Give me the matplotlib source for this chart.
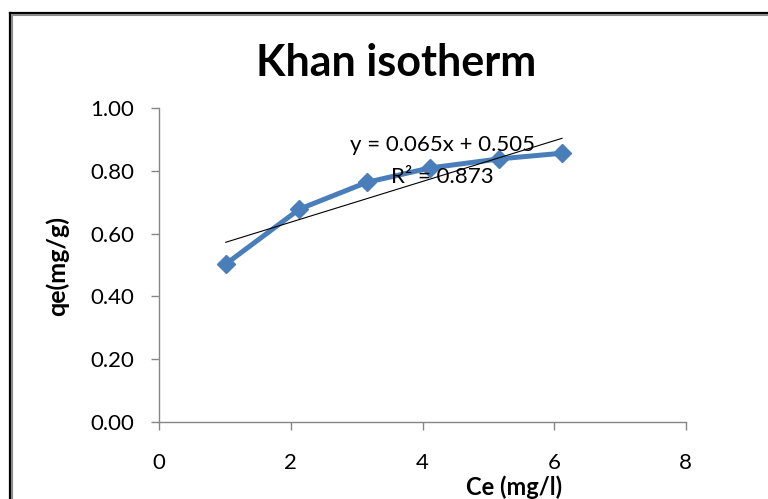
import matplotlib
matplotlib.use("Agg")
import matplotlib.pyplot as plt
from matplotlib.lines import Line2D
import numpy as np

plt.rcParams['font.family'] = ['Lato', 'DejaVu Sans']

ce = [1.01, 2.13, 3.15, 4.11, 5.17, 6.12]
qe = [0.503, 0.678, 0.763, 0.809, 0.838, 0.856]
x_ticks = [0, 2, 4, 6, 8]
y_ticks = [0.0, 0.2, 0.4, 0.6, 0.8, 1.0]
title = "Khan isotherm"
xlabel = "Ce (mg/l)"
ylabel = "qe(mg/g)"
eq_text = "y = 0.065x + 0.505"
r2_text = "R² = 0.873"

W, H = 768, 499
fig = plt.figure(figsize=(W / 100, H / 100), dpi=100)
ax = fig.add_axes([159.3 / W, 1 - 422 / H, (685.7 - 159.3) / W, (422 - 108) / H])

slope, intercept = np.polyfit(ce, qe, 1)
xs = np.array([min(ce), max(ce)])
ax.plot(xs, slope * xs + intercept, color='black', lw=0.8, zorder=3)
ax.plot(ce, qe, color='#4a7ebb', lw=3.6, marker='D', markersize=9.5,
        markeredgecolor='#4a7ebb', zorder=2)

ax.set_xlim(0, 8)
ax.set_ylim(0, 1.0)
ax.set_xticks(x_ticks)
ax.set_yticks(y_ticks)
ax.set_xticklabels([str(v) for v in x_ticks])
ax.set_yticklabels([f"{v:.2f}" for v in y_ticks])
for s in ['top', 'right']:
    ax.spines[s].set_visible(False)
for s in ['left', 'bottom']:
    ax.spines[s].set_color('#868686')
    ax.spines[s].set_linewidth(1.0)
ax.tick_params(axis='both', direction='out', color='#868686', length=6, width=1,
               labelsize=16, labelcolor='black')
ax.tick_params(axis='x', pad=16)
ax.tick_params(axis='y', pad=12)

fig.text(396 / W, 1 - 63 / H, title, ha='center', va='center', fontsize=31,
         fontweight='bold')
fig.text(514 / W, 1 - 487 / H, xlabel, ha='center', va='center', fontsize=17,
         fontweight='bold')
fig.text(57 / W, 1 - 266 / H, ylabel, ha='center', va='center', fontsize=18,
         fontweight='bold', rotation=90)
fig.text(442 / W, 1 - 145 / H, eq_text, ha='center', va='center', fontsize=16)
fig.text(442 / W, 1 - 177 / H, r2_text, ha='center', va='center', fontsize=16)

# outer frame
fig.add_artist(Line2D([10 / W, 1.0], [1 - 13 / H, 1 - 13 / H], color='black', lw=1.6,
                      transform=fig.transFigure))
fig.add_artist(Line2D([12 / W, 1.0], [1 - 15 / H, 1 - 15 / H], color='#8a8a8a', lw=1.5,
                      transform=fig.transFigure))
fig.add_artist(Line2D([10 / W, 10 / W], [0, 1 - 13 / H], color='black', lw=1.6,
                      transform=fig.transFigure))
fig.add_artist(Line2D([12 / W, 12 / W], [0, 1 - 15 / H], color='#8a8a8a', lw=1.5,
                      transform=fig.transFigure))

fig.savefig("out.png", dpi=100)
